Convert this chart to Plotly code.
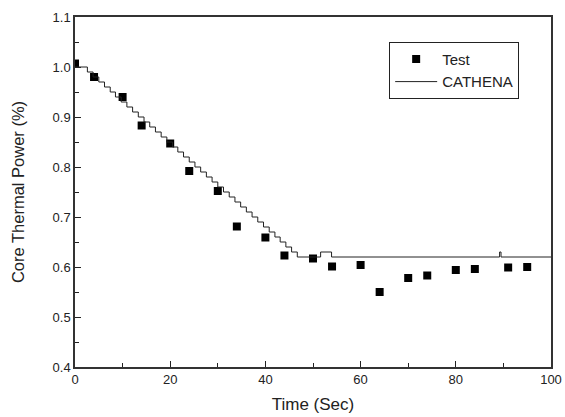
import plotly.graph_objects as go

# Test data
test_t = [0, 4, 10, 14, 20, 24, 30, 34, 40, 44, 50, 54, 60, 64, 70, 74, 80, 84, 91, 95]
test_p = [1.007, 0.980, 0.940, 0.883, 0.847, 0.792, 0.752, 0.681, 0.659, 0.623,
          0.617, 0.601, 0.604, 0.550, 0.578, 0.583, 0.594, 0.596, 0.599, 0.600]

# CATHENA staircase vertices (value held until next time)
cath_t = [0, 2.6, 3.8, 5.0, 6.2, 7.4, 8.5, 9.7, 10.9, 12.1, 13.3, 14.5, 15.7, 16.9,
          18.1, 19.3, 20.5, 21.6, 22.8, 24.0, 25.2, 26.4, 27.6, 28.8, 30.0, 31.2,
          32.4, 33.6, 34.8, 36.0, 37.2, 38.4, 39.6, 40.8, 42.0, 43.1, 44.3, 45.5,
          46.7, 51.6, 53.9, 89.2, 89.5, 100]
cath_p = [1.00, 0.99, 0.98, 0.97, 0.96, 0.95, 0.94, 0.93, 0.92, 0.91, 0.90, 0.89,
          0.88, 0.87, 0.86, 0.85, 0.84, 0.83, 0.82, 0.81, 0.80, 0.79, 0.78, 0.77,
          0.76, 0.75, 0.74, 0.73, 0.72, 0.71, 0.70, 0.69, 0.68, 0.67, 0.66, 0.65,
          0.64, 0.63, 0.62, 0.63, 0.62, 0.63, 0.62, 0.62]

x_ticks = [0, 20, 40, 60, 80, 100]
y_ticks = [0.4, 0.5, 0.6, 0.7, 0.8, 0.9, 1.0, 1.1]

font = "Liberation Sans, Arial, sans-serif"

fig = go.Figure()
fig.add_trace(go.Scatter(x=test_t, y=test_p, mode="markers", name="Test",
                         marker=dict(symbol="square", size=8, color="black")))
fig.add_trace(go.Scatter(x=cath_t, y=cath_p, mode="lines", name="CATHENA",
                         line=dict(color="#222222", width=1, shape="hv")))

axis_common = dict(showline=True, linecolor="#333333", linewidth=1.5, mirror=True,
                   ticks="inside", ticklen=6, tickwidth=1, tickcolor="#222222",
                   showgrid=False, zeroline=False, automargin=False,
                   tickfont=dict(family=font, size=13, color="#222222"))

fig.update_xaxes(range=[0, 100], tickvals=x_ticks, ticktext=[str(v) for v in x_ticks],
                 minor=dict(dtick=10, ticks="inside", ticklen=4, tickcolor="#222222"),
                 title=dict(text="Time (Sec)", font=dict(family=font, size=17, color="#222222"),
                            standoff=12),
                 **axis_common)
fig.update_yaxes(range=[0.4, 1.1], tickvals=y_ticks, ticktext=[f"{v:.1f}" for v in y_ticks],
                 minor=dict(dtick=0.05, ticks="inside", ticklen=4, tickcolor="#222222"),
                 title=dict(text="Core Thermal Power (%)", font=dict(family=font, size=16.5, color="#222222"),
                            standoff=24),
                 **axis_common)

fig.update_layout(
    width=565, height=417,
    margin=dict(l=75, r=14, t=17, b=50),
    paper_bgcolor="white", plot_bgcolor="white",
    showlegend=True,
    legend=dict(x=0.66, y=0.929, xanchor="left", yanchor="top",
                bordercolor="#222222", borderwidth=1, bgcolor="white",
                font=dict(family=font, size=15, color="#222222"),
                itemwidth=42, tracegroupgap=0),
)

fig.write_html("out.html")
